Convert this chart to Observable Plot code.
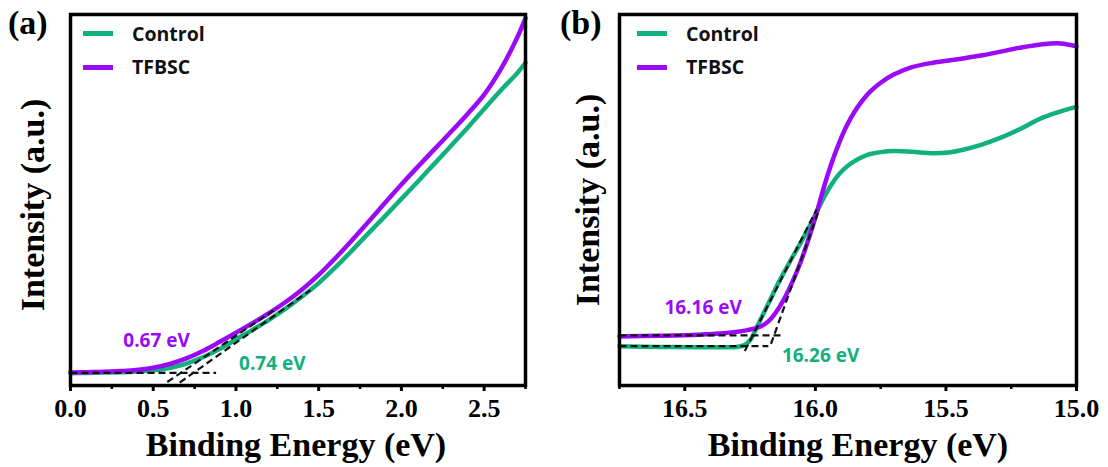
<!DOCTYPE html>
<html>
<head>
<meta charset="utf-8">
<script src="https://cdn.jsdelivr.net/npm/d3@7"></script>
<script src="https://cdn.jsdelivr.net/npm/@observablehq/plot@0.6"></script>
<style>
  html, body { margin: 0; padding: 0; background: #fff; }
  #wrap { position: relative; width: 1108px; height: 467px; overflow: hidden; }
  .panel { position: absolute; top: 0; }
  .panel svg { display: block; }
  .legend { position: absolute; font-family: "Open Sans", sans-serif; font-weight: 700; font-size: 19.5px; color: #111; }
  .legend .sw { position: absolute; height: 5px; width: 30px; }
  .legend .lb { position: absolute; line-height: 20px; white-space: nowrap; }
  #overlay { position: absolute; left: 0; top: 0; pointer-events: none; }
</style>
</head>
<body>
<div id="wrap"></div>
<script>
// ---------------- data ----------------
const seriesNames = ["Control", "TFBSC"];
const seriesColors = ["#12b07e", "#9a0af5"];

// Panel (a): valence band region
const energyA  = [0.00, 0.10, 0.20, 0.30, 0.40, 0.50, 0.60, 0.70, 0.80, 0.90, 1.00, 1.10, 1.20, 1.30, 1.40, 1.50, 1.60, 1.70, 1.80, 1.90, 2.00, 2.10, 2.20, 2.30, 2.40, 2.50, 2.60, 2.70, 2.75];
const tfbscA   = [3.5, 3.6, 3.7, 3.9, 4.2, 4.8, 5.8, 7.3, 9.3, 11.7, 14.2, 16.8, 19.5, 22.5, 25.9, 29.8, 34.3, 39.1, 44.1, 49.2, 54.2, 59.0, 63.7, 68.4, 73.2, 78.4, 85.2, 93.8, 99.0];
const controlA = [3.3, 3.4, 3.5, 3.6, 3.8, 4.1, 4.7, 5.9, 7.6, 9.8, 12.4, 15.0, 17.7, 20.7, 24.0, 27.6, 31.8, 36.3, 41.0, 45.6, 50.3, 55.0, 59.8, 64.6, 69.5, 74.5, 79.5, 84.2, 87.0];
const ticksA = [0.0, 0.5, 1.0, 1.5, 2.0, 2.5];
const minorA = [0.25, 0.75, 1.25, 1.75, 2.25, 2.75];
// fit lines (a), data units
const fitsA = [
  {series: "base",    x1: 0.00, y1: 3.4, x2: 0.88, y2: 3.4},
  {series: "TFBSC",   x1: 0.585, y1: 0.95, x2: 1.25, y2: 20.9},
  {series: "Control", x1: 0.66, y1: 0.8, x2: 1.45, y2: 25.7}
];
const labelsA = [
  {text: "0.67 eV", series: "TFBSC",   x: 0.52, y: 12.1},
  {text: "0.74 eV", series: "Control", x: 1.22, y: 5.9}
];

// Panel (b): secondary electron cutoff region
const energyB  = [16.75, 16.60, 16.45, 16.35, 16.30, 16.27, 16.25, 16.23, 16.21, 16.19, 16.17, 16.15, 16.12, 16.09, 16.06, 16.03, 16.00, 15.97, 15.94, 15.91, 15.88, 15.85, 15.82, 15.79, 15.75, 15.70, 15.63, 15.55, 15.49, 15.43, 15.36, 15.29, 15.22, 15.13, 15.06, 15.00];
const tfbscB   = [13.2, 13.4, 13.7, 14.1, 14.5, 14.8, 15.1, 15.4, 15.9, 16.7, 18.0, 19.8, 23.3, 27.6, 32.6, 38.6, 45.3, 52.8, 59.5, 65.2, 70.0, 73.8, 76.8, 79.2, 81.6, 83.8, 85.8, 87.0, 87.6, 88.2, 89.0, 90.0, 91.0, 92.0, 92.2, 91.4];
const controlB = [10.6, 10.4, 10.3, 10.3, 10.4, 10.9, 12.2, 14.8, 17.8, 20.6, 23.5, 26.5, 30.5, 34.3, 38.0, 41.8, 46.0, 50.3, 54.0, 56.9, 59.0, 60.5, 61.6, 62.4, 62.9, 63.2, 63.0, 62.6, 62.8, 63.6, 65.0, 66.8, 69.0, 72.2, 73.9, 75.1];
const ticksB = [16.5, 16.0, 15.5, 15.0];
const minorB = [16.75, 16.25, 15.75, 15.25];
const fitsB = [
  {series: "TFBSC",   x1: 16.75, y1: 13.5, x2: 16.12, y2: 13.5},
  {series: "Control", x1: 16.75, y1: 10.6, x2: 16.18, y2: 10.6},
  {series: "TFBSC",   x1: 16.17, y1: 11.2, x2: 15.985, y2: 47.5},
  {series: "Control", x1: 16.27, y1: 9.3, x2: 15.995, y2: 47.5}
];
const labelsB = [
  {text: "16.16 eV", series: "TFBSC",   x: 16.43, y: 20.8},
  {text: "16.26 eV", series: "Control", x: 15.98, y: 8.1}
];

// ---------------- build ----------------
const colorOf = s => seriesColors[seriesNames.indexOf(s)];
const SERIF = "'Liberation Serif', 'Times New Roman', serif";
const SANS = "'Open Sans', sans-serif";

function rows(energy, control, tfbsc) {
  const out = [];
  energy.forEach((e, i) => out.push({x: e, y: control[i], s: "Control"}));
  energy.forEach((e, i) => out.push({x: e, y: tfbsc[i], s: "TFBSC"}));
  return out;
}

function panel({data, fits, labels, domain, ticks, minor, fmt, width, marginLeft, marginRight}) {
  return Plot.plot({
    width, height: 467,
    marginLeft, marginRight, marginTop: 14, marginBottom: 82,
    style: {fontFamily: SERIF, fontSize: "26px", fontWeight: "bold", background: "white", overflow: "visible"},
    x: {domain, axis: null},
    y: {domain: [0, 100], axis: null},
    marks: [
      Plot.line(data, {x: "x", y: "y", z: "s", stroke: d => colorOf(d.s), strokeWidth: 4.5, curve: "catmull-rom"}),
      Plot.link(fits, {x1: "x1", y1: "y1", x2: "x2", y2: "y2", stroke: "#111", strokeWidth: 2.2, strokeDasharray: "7,4"}),
      Plot.text(labels, {x: "x", y: "y", text: "text", fill: d => colorOf(d.series), fontFamily: SANS, fontWeight: "bold", fontSize: 19}),
      Plot.axisX(minor, {tickSize: 4, strokeWidth: 2.5, stroke: "black", text: null, label: null}),
      Plot.axisX(ticks, {tickSize: 6, strokeWidth: 3, stroke: "black", tickPadding: 7, tickFormat: fmt,
        fontFamily: SERIF, fontSize: 26, fontWeight: "bold", fill: "black", label: null}),
      Plot.frame({stroke: "black", strokeWidth: 3.5})
    ]
  });
}

const wrap = document.getElementById("wrap");

const pa = panel({
  data: rows(energyA, controlA, tfbscA), fits: fitsA, labels: labelsA,
  domain: [0, 2.75], ticks: ticksA, minor: minorA, fmt: d3.format(".1f"),
  width: 550, marginLeft: 70, marginRight: 25
});
const da = document.createElement("div"); da.className = "panel"; da.style.left = "0px"; da.appendChild(pa); wrap.appendChild(da);

const pb = panel({
  data: rows(energyB, controlB, tfbscB), fits: fitsB, labels: labelsB,
  domain: [16.75, 15.0], ticks: ticksB, minor: minorB, fmt: d3.format(".1f"),
  width: 558, marginLeft: 69, marginRight: 32
});
const db = document.createElement("div"); db.className = "panel"; db.style.left = "550px"; db.appendChild(pb); wrap.appendChild(db);

// legends
function legend(swLeft, txtLeft) {
  const lg = document.createElement("div");
  lg.className = "legend";
  lg.style.left = "0px"; lg.style.top = "0px";
  seriesNames.forEach((name, i) => {
    const cy = 33.5 + i * 33.5;
    const sw = document.createElement("div");
    sw.className = "sw"; sw.style.left = swLeft + "px"; sw.style.top = (cy - 2.5) + "px";
    sw.style.background = seriesColors[i];
    const lb = document.createElement("div");
    lb.className = "lb"; lb.style.left = txtLeft + "px"; lb.style.top = (cy - 10) + "px";
    lb.textContent = name;
    lg.appendChild(sw); lg.appendChild(lb);
  });
  wrap.appendChild(lg);
}
legend(83, 132);
legend(637, 686);

// titles overlay
const NS = "http://www.w3.org/2000/svg";
const ov = document.createElementNS(NS, "svg");
ov.setAttribute("id", "overlay"); ov.setAttribute("width", 1108); ov.setAttribute("height", 467);
function addText(str, x, y, opts = {}) {
  const t = document.createElementNS(NS, "text");
  t.textContent = str;
  t.setAttribute("font-family", SERIF);
  t.setAttribute("font-weight", "bold");
  t.setAttribute("font-size", opts.size || 34);
  t.setAttribute("fill", "#000");
  t.setAttribute("text-anchor", opts.anchor || "middle");
  if (opts.rotate) t.setAttribute("transform", `translate(${x},${y}) rotate(-90)`);
  else { t.setAttribute("x", x); t.setAttribute("y", y); }
  ov.appendChild(t);
}
addText("Binding Energy (eV)", 296, 456);
addText("Binding Energy (eV)", 858, 456);
addText("Intensity (a.u.)", 44, 205, {rotate: true});
addText("Intensity (a.u.)", 599, 200, {rotate: true});
addText("(a)", 8, 34, {anchor: "start"});
addText("(b)", 560, 34, {anchor: "start"});
wrap.appendChild(ov);
</script>
</body>
</html>
